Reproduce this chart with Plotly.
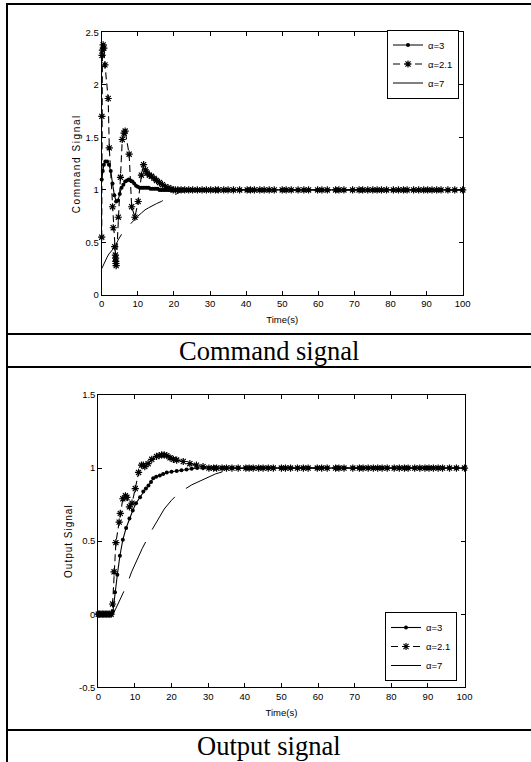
import plotly.graph_objects as go

# ---------------- data ----------------
# Command signal, alpha = 3
t_cmd_a3 = [0.0, 0.3, 0.6, 1.0, 1.5, 2.0, 2.5, 3.0, 3.5, 4.0, 4.5, 5.0, 5.5, 6.0, 6.5, 7.0, 7.5,
            8.0, 8.5, 9.0, 9.5, 10.0, 10.5, 11.0, 11.5, 12.0, 12.5, 13.0, 13.5, 14.0, 14.5, 15.0,
            15.5, 16.0, 16.5, 17.0, 17.5, 18.0, 18.5, 19.0, 19.5, 20.0, 20.6, 21.3, 22.2, 23.1,
            24.0, 25.0, 26.1, 27.4, 28.6]
v_cmd_a3 = [1.10, 1.18, 1.24, 1.27, 1.27, 1.24, 1.18, 1.06, 0.95, 0.89, 0.90, 0.96, 1.02, 1.05,
            1.08, 1.09, 1.10, 1.09, 1.08, 1.06, 1.04, 1.03, 1.02, 1.02, 1.02, 1.02, 1.02, 1.02,
            1.01, 1.01, 1.01, 1.01, 1.01, 1.00, 1.00, 1.00, 1.00, 1.00, 1.00, 1.00, 1.00, 1.00,
            1.00, 1.00, 1.00, 1.00, 1.00, 1.00, 1.00, 1.00, 1.00]

# Command signal, alpha = 2.1
t_cmd_a21 = [0.0, 0.05, 0.1, 0.2, 0.4, 0.6, 0.9, 1.8, 2.1, 3.0, 3.2, 3.6, 3.8, 3.85, 3.9, 3.95,
             4.0, 4.6, 5.2, 5.7, 6.2, 6.5, 7.6, 8.3, 9.2, 10.1, 11.0, 11.6, 12.1, 12.6, 13.2,
             13.8, 14.5, 15.2, 16.0, 16.8, 17.6, 18.4, 19.2, 19.8, 20.4, 21.1, 22.0, 23.0, 24.1,
             25.2, 26.5, 27.8, 29.0]
v_cmd_a21 = [0.55, 1.70, 2.28, 2.33, 2.38, 2.35, 2.19, 1.87, 1.40, 0.84, 0.64, 0.46, 0.38, 0.35,
             0.32, 0.30, 0.28, 0.74, 1.12, 1.48, 1.54, 1.56, 1.34, 0.84, 0.74, 0.89, 1.14, 1.24,
             1.19, 1.16, 1.14, 1.13, 1.11, 1.09, 1.07, 1.05, 1.03, 1.02, 1.01, 1.00, 1.00, 1.00,
             1.00, 1.00, 1.00, 1.00, 1.00, 1.00, 1.00]

# Command signal, alpha = 7
t_cmd_a7 = [0.0, 0.5, 1.0, 1.5, 2.0, 2.5, 3.0, 3.7, 4.5, 5.7, 7.0, 8.0, 9.0, 10.0, 11.0, 12.0,
            13.0, 14.0, 15.2, 16.5, 18.0, 19.0, 20.0, 21.7, 23.0, 25.0, 27.0, 29.0, 100.0]
v_cmd_a7 = [0.25, 0.29, 0.33, 0.36, 0.39, 0.41, 0.43, 0.46, 0.52, 0.59, 0.64, 0.68, 0.72, 0.75,
            0.78, 0.81, 0.83, 0.85, 0.87, 0.89, 0.92, 0.93, 0.95, 0.98, 0.99, 1.00, 1.00, 1.00,
            1.00]

# Output signal, alpha = 3
t_out_a3 = [0.0, 0.4, 0.8, 1.2, 1.6, 2.0, 2.4, 2.8, 3.2, 3.6, 4.0, 4.56, 5.2, 5.9, 6.7, 7.6, 8.5,
            9.4, 10.3, 11.4, 12.3, 13.0, 13.7, 14.4, 15.0, 15.8, 16.8, 17.7, 18.7, 20.0, 21.4,
            22.7, 24.1, 25.5, 27.0, 28.6]
v_out_a3 = [0.0, 0.0, 0.0, 0.0, 0.0, 0.0, 0.0, 0.0, 0.0, 0.0, 0.02, 0.15, 0.27, 0.40, 0.51, 0.59,
            0.655, 0.71, 0.76, 0.80, 0.84, 0.86, 0.88, 0.905, 0.93, 0.94, 0.95, 0.96, 0.97,
            0.975, 0.98, 0.985, 0.99, 0.995, 1.00, 1.00]

# Output signal, alpha = 2.1
t_out_a21 = [0.0, 0.3, 0.7, 1.1, 1.5, 1.9, 2.3, 2.7, 3.1, 3.5, 3.9, 4.3, 4.8, 5.7, 6.0, 6.7, 7.4,
             7.8, 8.5, 9.2, 10.1, 11.0, 11.8, 12.3, 12.7, 13.6, 14.6, 15.9, 16.6, 17.3, 18.0,
             18.7, 19.6, 20.5, 21.4, 23.2, 25.0, 26.8, 28.6]
v_out_a21 = [0.0, 0.0, 0.0, 0.0, 0.0, 0.0, 0.0, 0.0, 0.0, 0.0, 0.07, 0.29, 0.49, 0.63, 0.69, 0.79,
             0.81, 0.80, 0.735, 0.76, 0.86, 0.97, 1.02, 1.02, 1.01, 1.03, 1.06, 1.08, 1.085,
             1.09, 1.09, 1.085, 1.07, 1.06, 1.055, 1.045, 1.03, 1.02, 1.01]

# Output signal, alpha = 7
t_out_a7 = [0.0, 1.0, 2.0, 3.0, 4.0, 5.0, 6.0, 7.8, 9.1, 10.0, 12.0, 14.6, 16.7, 18.0, 20.0,
            22.0, 25.5, 29.2, 32.0, 36.0, 40.0, 100.0]
v_out_a7 = [0.0, 0.0, 0.0, 0.0, 0.0, 0.05, 0.10, 0.20, 0.29, 0.34, 0.45, 0.575, 0.667, 0.72,
            0.78, 0.83, 0.885, 0.93, 0.96, 0.99, 1.00, 1.00]

# steady-state samples (shared by the marked series after t = 30 s)
steady_t = [30.2, 31.5, 32.3, 33.8, 35.0, 36.5, 38.2, 40.3, 41.2, 42.3, 43.8, 45.0, 46.4, 47.8,
            50.0, 51.1, 52.5, 54.4, 56.0, 57.3, 59.8, 61.0, 62.5, 64.8, 65.7, 67.1, 69.5, 71.3,
            72.3, 73.7, 75.1, 76.3, 77.5, 78.9, 80.8, 82.2, 83.6, 84.6, 86.4, 87.8, 89.2, 90.3,
            91.5, 92.8, 94.0, 95.9, 97.8, 100.0]
steady_v = [1.0, 1.0, 1.0, 1.0, 1.0, 1.0, 1.0, 1.0, 1.0, 1.0, 1.0, 1.0, 1.0, 1.0, 1.0, 1.0,
            1.0, 1.0, 1.0, 1.0, 1.0, 1.0, 1.0, 1.0, 1.0, 1.0, 1.0, 1.0, 1.0, 1.0, 1.0, 1.0,
            1.0, 1.0, 1.0, 1.0, 1.0, 1.0, 1.0, 1.0, 1.0, 1.0, 1.0, 1.0, 1.0, 1.0, 1.0, 1.0]

legend_names = ["\u03b1=3", "\u03b1=2.1", "\u03b1=7"]
x_ticks = [0, 10, 20, 30, 40, 50, 60, 70, 80, 90, 100]
x_ticktext = ["0", "10", "20", "30", "40", "50", "60", "70", "80", "90", "100"]
y1_ticks = [0, 0.5, 1, 1.5, 2, 2.5]
y1_ticktext = ["0", "0.5", "1", "1.5", "2", "2.5"]
y2_ticks = [-0.5, 0, 0.5, 1, 1.5]
y2_ticktext = ["-0.5", "0", "0.5", "1", "1.5"]
captions = ["Command signal", "Output signal"]

# ---------------- figure ----------------
W, H = 531, 762
TICK_FONT = dict(family="Liberation Sans Narrow, Arial Narrow, Liberation Sans, Arial", size=9.5, color="black")
TITLE_FONT = dict(family="Liberation Sans, Arial", size=10, color="black")
SERIF = "Liberation Serif, Times New Roman, serif"


def px_x(p):
    return p / W


def px_y(p):
    return 1 - p / H


fig = go.Figure()


def add_panel(xa, ya, leg, a3, a21, a7):
    (t3, v3), (t21, v21), (t7, v7) = a3, a21, a7
    fig.add_trace(go.Scatter(
        x=t3 + steady_t, y=v3 + steady_v, name=legend_names[0], mode="lines+markers",
        line=dict(color="black", width=1.1),
        marker=dict(symbol="circle", size=4, color="black"),
        xaxis=xa, yaxis=ya, legend=leg, cliponaxis=False))
    fig.add_trace(go.Scatter(
        x=t21 + steady_t, y=v21 + steady_v, name=legend_names[1], mode="lines+markers",
        line=dict(color="black", width=1.1, dash="7px,4px"),
        marker=dict(symbol="asterisk-open", size=6, color="black",
                    line=dict(color="black", width=1.2)),
        xaxis=xa, yaxis=ya, legend=leg, cliponaxis=False))
    fig.add_trace(go.Scatter(
        x=t7, y=v7, name=legend_names[2], mode="lines",
        line=dict(color="black", width=1, dash="40px,14px"),
        xaxis=xa, yaxis=ya, legend=leg, cliponaxis=False))


add_panel("x", "y", "legend",
          (t_cmd_a3, v_cmd_a3), (t_cmd_a21, v_cmd_a21), (t_cmd_a7, v_cmd_a7))
add_panel("x2", "y2", "legend2",
          (t_out_a3, v_out_a3), (t_out_a21, v_out_a21), (t_out_a7, v_out_a7))

axis_common = dict(showline=True, linecolor="black", linewidth=1, mirror="ticks",
                   ticks="inside", ticklen=4, tickcolor="black", tickwidth=1,
                   showgrid=False, zeroline=False, tickfont=TICK_FONT, automargin=False)

fig.update_layout(
    width=W, height=H,
    margin=dict(l=0, r=0, t=0, b=0),
    paper_bgcolor="white", plot_bgcolor="white",
    xaxis=dict(domain=[px_x(101.7), px_x(462.7)], anchor="y", range=[0, 100],
               tickvals=x_ticks, ticktext=x_ticktext,
               title=dict(text="Time(s)", font=TICK_FONT, standoff=7), **axis_common),
    yaxis=dict(domain=[px_y(295), px_y(32.3)], anchor="x", range=[0, 2.5],
               tickvals=y1_ticks, ticktext=y1_ticktext,
               title=dict(text="Command Signal", font=TITLE_FONT, standoff=3), **axis_common),
    xaxis2=dict(domain=[px_x(98.3), px_x(464.5)], anchor="y2", range=[0, 100],
                tickvals=x_ticks, ticktext=x_ticktext,
                title=dict(text="Time(s)", font=TICK_FONT, standoff=8), **axis_common),
    yaxis2=dict(domain=[px_y(687.3), px_y(395)], anchor="x2", range=[-0.5, 1.5],
                tickvals=y2_ticks, ticktext=y2_ticktext,
                title=dict(text="Output Signal", font=TITLE_FONT, standoff=4), **axis_common),
    legend=dict(x=px_x(459), xanchor="right", y=px_y(64), yanchor="middle",
                bordercolor="black", borderwidth=1, bgcolor="white",
                font=TICK_FONT, itemwidth=30, tracegroupgap=0),
    legend2=dict(x=px_x(457), xanchor="right", y=px_y(646.5), yanchor="middle",
                 bordercolor="black", borderwidth=1, bgcolor="white",
                 font=TICK_FONT, itemwidth=30, tracegroupgap=0),
    showlegend=True,
)

# table frame around the two figure cells
frame = dict(type="line", xref="paper", yref="paper", line=dict(color="black", width=2))
fig.add_shape(x0=px_x(7), x1=px_x(7), y0=px_y(4), y1=px_y(762), **frame)
for yy in [4, 334, 367, 730]:
    fig.add_shape(x0=px_x(6), x1=1, y0=px_y(yy), y1=px_y(yy), **frame)

for text, yy in zip(captions, [350.5, 746]):
    fig.add_annotation(text=text, x=px_x(269), y=px_y(yy), xref="paper", yref="paper",
                       xanchor="center", yanchor="middle", showarrow=False,
                       font=dict(family=SERIF, size=26.5, color="black"))

# remove the default page margin and widen the letter spacing of the y titles
post = """
document.body.style.margin = '0';
document.body.style.overflow = 'hidden';
document.querySelectorAll('.ytitle').forEach(function(e){ e.style.letterSpacing = '1.6px'; });
document.querySelectorAll('.y2title').forEach(function(e){ e.style.letterSpacing = '1.0px'; });
"""

fig.write_html("out.html", post_script=post, config={"displayModeBar": False})
